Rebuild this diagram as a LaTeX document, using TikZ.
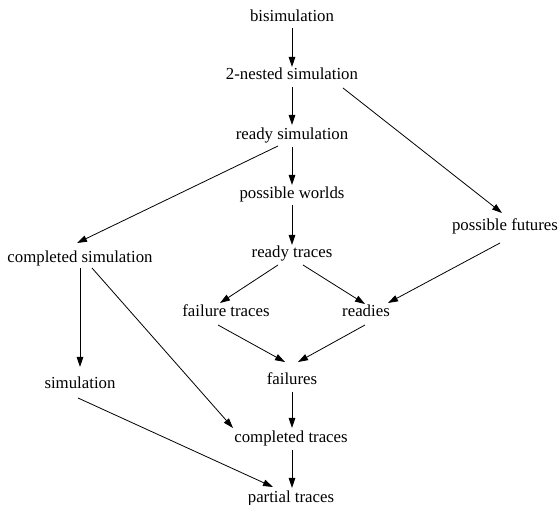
\documentclass[tikz,border=0pt]{standalone}
\usepackage{fontspec}
\setmainfont{Liberation Serif}
\usetikzlibrary{arrows.meta}
\tikzset{
  lbl/.style={inner sep=0pt, outer sep=0pt, text height=13pt, text depth=5pt, anchor=base,
    font=\fontsize{16.8}{20}\selectfont},
  arr/.style={line width=0.8pt, -{Triangle[length=10pt,width=6.5pt]}}
}
\begin{document}
\begin{tikzpicture}[x=1pt,y=-1pt]
\useasboundingbox (0,0) rectangle (558,505);
\node[lbl] (bisim) at (292,22) {bisimulation};
\node[lbl] (twonested) at (292,80) {2-nested simulation};
\node[lbl] (readysim) at (292,140) {ready simulation};
\node[lbl] (possworlds) at (292,199) {possible worlds};
\node[lbl] (readytraces) at (292,258) {ready traces};
\node[lbl] (possfut) at (505,231) {possible futures};
\node[lbl] (compsim) at (80,263) {completed simulation};
\node[lbl] (failtr) at (226,317) {failure traces};
\node[lbl] (readies) at (366,317) {readies};
\node[lbl] (failures) at (292,385) {failures};
\node[lbl] (simulation) at (80,389) {simulation};
\node[lbl] (comptr) at (291,443) {completed traces};
\node[lbl] (partial) at (291,503) {partial traces};

\draw[arr] ([shift={(0,1)}]bisim.south) -- ([shift={(0,0)}]twonested.north);
\draw[arr] ([shift={(0,2)}]twonested.south) -- ([shift={(0,-2)}]readysim.north);
\draw[arr] ([shift={(0,2)}]readysim.south) -- ([shift={(0,-1)}]possworlds.north);
\draw[arr] ([shift={(0,1)}]possworlds.south) -- ([shift={(0,0)}]readytraces.north);
\draw[arr] ([shift={(0,2)}]failures.south) -- ([shift={(1,-2)}]comptr.north);
\draw[arr] ([shift={(1,2)}]comptr.south) -- ([shift={(1,-2)}]partial.north);
\draw[arr] ([shift={(0,0)}]compsim.south) -- ([shift={(0,-9)}]simulation.north);
\draw[arr] ([shift={(51,3)}]twonested.south) -- ([shift={(-3,-5)}]possfut.north);
\draw[arr] ([shift={(-14,1)}]readysim.south) -- ([shift={(-3,-7)}]compsim.north);
\draw[arr] ([shift={(-14,2)}]readytraces.south) -- ([shift={(-6,-1)}]failtr.north);
\draw[arr] ([shift={(11,2)}]readytraces.south) -- ([shift={(-1,0)}]readies.north);
\draw[arr] ([shift={(-5,7)}]possfut.south) -- ([shift={(22,-1)}]readies.north);
\draw[arr] ([shift={(-8,3)}]failtr.south) -- ([shift={(-7,-10)}]failures.north);
\draw[arr] ([shift={(-1,3)}]readies.south) -- ([shift={(6,-10)}]failures.north);
\draw[arr] ([shift={(12,0)}]compsim.south) -- ([shift={(-58,-2)}]comptr.north);
\draw[arr] ([shift={(-2,4)}]simulation.south) -- ([shift={(-18,-3)}]partial.north);
\end{tikzpicture}
\end{document}
